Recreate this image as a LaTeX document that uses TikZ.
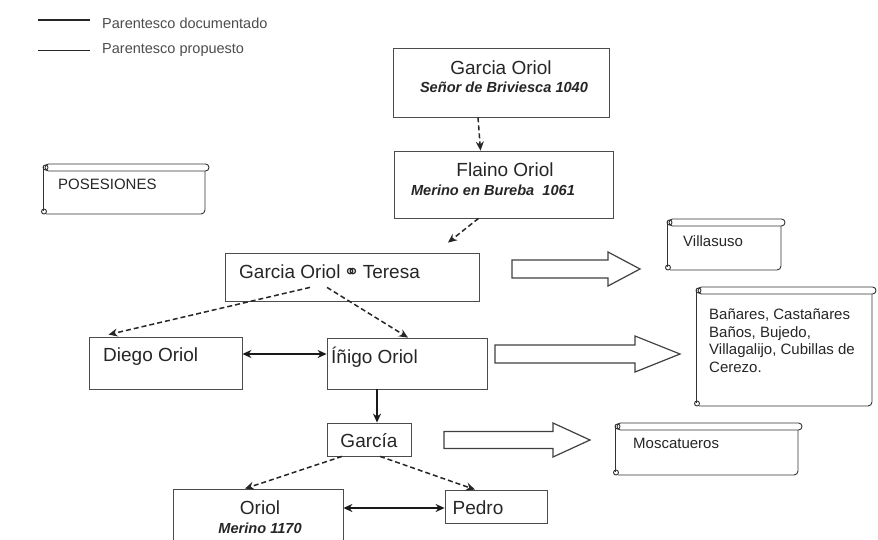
\documentclass[tikz,border=0pt]{standalone}
\usepackage{fontspec}
\setmainfont{Liberation Sans}
\newfontfamily\symfont{DejaVu Sans}
\usetikzlibrary{arrows.meta,calc}
\newcommand\scrollbox[4]{%
  \draw[scr,rounded corners=3.5pt] (#1+2,#2) rectangle (#3+4,#2+7);
  \draw[scr] (#1,#2+3) -- (#1,#4-3);
  \draw[scr] (#1+3,#4) -- (#3-4,#4) to[out=0,in=-90] (#3,#4-4) -- (#3,#2+7);
  \draw[scr] (#1+2.5,#2+3.5) circle (2.5pt);
  \draw[scr] (#1+1,#4-2.5) circle (2.5pt);
}
\newcommand\blockarrow[6]{%
  \draw[barr] (#1,#4-#5) -- (#2,#4-#5) -- (#2,#4-#6) -- (#3,#4) -- (#2,#4+#6) -- (#2,#4+#5) -- (#1,#4+#5) -- cycle;
}
\begin{document}
\begin{tikzpicture}[x=1pt,y=-1pt,
  box/.style={draw=black!70, line width=0.8pt, rectangle, inner sep=0pt},
  ttl/.style={inner sep=0pt, text=black!85, font=\fontsize{19}{22}\selectfont},
  sub/.style={inner sep=0pt, text=black!85, font=\fontsize{14.6}{17}\selectfont\bfseries\itshape},
  stxt/.style={inner sep=0pt, text=black!85, font=\fontsize{15}{17.5}\selectfont, align=left},
  leg/.style={inner sep=0pt, text=black!70, font=\fontsize{14.5}{17}\selectfont},
  scr/.style={draw=black!80, line width=0.9pt},
  barr/.style={draw=black!75, line width=1.2pt, fill=white},
  dasharr/.style={draw=black!85, line width=1.5pt, dash pattern=on 5pt off 3pt, -{Stealth[length=9pt,width=8pt]}},
  solidarr/.style={draw=black!90, line width=1.5pt, -{Stealth[length=9pt,width=8pt]}},
  botharr/.style={draw=black!90, line width=1.5pt, {Stealth[length=9pt,width=8pt]}-{Stealth[length=9pt,width=8pt]}},
]
\useasboundingbox (0,0) rectangle (878,540);
% legend
\coordinate (l1a) at (38,20); \coordinate (l1b) at (90,20);
\coordinate (l2a) at (38,50); \coordinate (l2b) at (90,50);
\draw[line width=1.8pt, black!85] (l1a) -- (l1b);
\draw[line width=0.9pt, black!85] (l2a) -- (l2b);
\node[leg, anchor=west] (leg1) at (102,23) {Parentesco documentado};
\node[leg, anchor=west] (leg2) at (102,50) {Parentesco propuesto};

% boxes
\node[box, minimum width=216pt, minimum height=69pt] (top) at (501,82.5) {};
\node[ttl] (topt) at (501,68) {Garcia Oriol};
\node[sub] (tops) at (504,87) {Señor de Briviesca 1040};

\node[box, minimum width=219pt, minimum height=67pt] (fla) at (503.5,184.5) {};
\node[ttl] (flat) at (505,170) {Flaino Oriol};
\node[sub] (flas) at (493,190) {Merino en Bureba\ \ 1061};

\node[box, minimum width=254pt, minimum height=48pt] (cou) at (352,277) {};
\node[ttl, anchor=west] (cout) at (239,272) {Garcia Oriol\,{\symfont\fontsize{19}{19}\selectfont ⚭}\,Teresa};

\node[box, minimum width=153pt, minimum height=52pt] (die) at (165.5,363) {};
\node[ttl, anchor=west] (diet) at (103,357) {Diego Oriol};

\node[box, minimum width=160pt, minimum height=51pt] (ini) at (407,363.5) {};
\node[ttl, anchor=west] (init) at (331,357) {Íñigo Oriol};

\node[box, minimum width=84pt, minimum height=33pt] (gar) at (369,439.5) {};
\node[ttl] (gart) at (369,441) {García};

\node[box, minimum width=170pt, minimum height=62pt] (ori) at (258,520) {};
\node[ttl] (orit) at (260,508) {Oriol};
\node[sub] (oris) at (260,528) {Merino 1170};

\node[box, minimum width=102pt, minimum height=33pt] (ped) at (496,506.5) {};
\node[ttl] (pedt) at (478,508) {Pedro};

% connectors
\draw[dasharr] ([xshift=-23pt]top.south) -- ([xshift=-23pt]fla.north);
\draw[dasharr] ([xshift=-25pt]fla.south) -- ($(cou.north)+(96,-10)$);
\draw[dasharr] ($(cou.south)+(-42,-14)$) -- ($(die.north)+(-57,-2)$);
\draw[dasharr] ($(cou.south)+(-25,-14)$) -- ($(ini.north)+(1,0)$);
\draw[solidarr] ([xshift=-30pt]ini.south) -- ([xshift=-30pt]ini.south |- gar.north);
\draw[botharr] ([yshift=9pt]die.east) -- ([yshift=9pt]die.east -| ini.west);
\draw[dasharr] ($(gar.south)+(-27,0)$) -- ($(ori.north)+(-13,0)$);
\draw[dasharr] ($(gar.south)+(11,0)$) -- ($(ped.north)+(-21,0)$);
\draw[botharr] (ori.east |- 0,508) -- (ped.west |- 0,508);

% block arrows
\blockarrow{512}{608}{640}{269}{9}{17}
\blockarrow{495}{635}{680}{354}{9}{18}
\blockarrow{444}{553}{590}{440}{8.5}{17}

% scrolls
\scrollbox{43}{164}{205}{214}
\node[stxt, anchor=west] (pos) at (58,184) {POSESIONES};
\scrollbox{667}{219}{781}{270}
\node[stxt, anchor=west] (vil) at (683,241) {Villasuso};
\scrollbox{696}{287}{872}{406}
\node[stxt, anchor=north west] (ban) at (709,309) {Bañares, Castañares\\Baños, Bujedo,\\Villagalijo, Cubillas de\\Cerezo.};
\scrollbox{615}{423}{798}{475}
\node[stxt, anchor=west] (mos) at (633,443) {Moscatueros};
\end{tikzpicture}
\end{document}
